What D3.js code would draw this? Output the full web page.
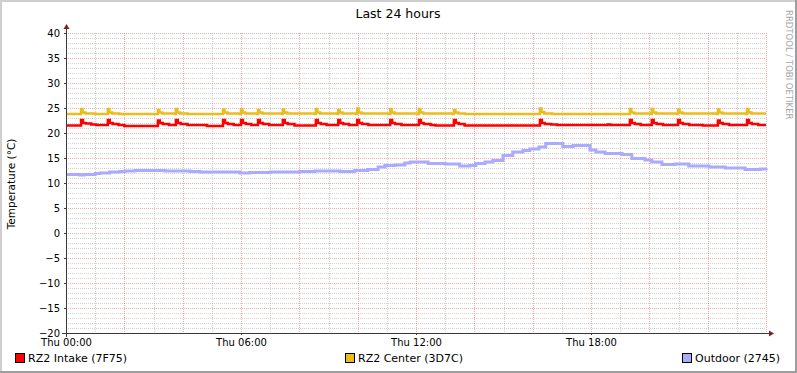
<!DOCTYPE html>
<html lang="en">
<head>
  <meta charset="UTF-8">
  <title>Last 24 hours</title>
  <script src="https://d3js.org/d3.v7.min.js"></script>
  <style>
    body { margin: 0; background: #fff; }
    svg { font-family: "DejaVu Sans", sans-serif; display: block; }
  </style>
</head>
<body>
<svg width="797" height="373"></svg>
<script>
  // Data: [minute of day, °C], drawn as step lines
  const intake = [
    [0,21.5],[29,21.5],[31,22.6],[35,22.0],[41,21.9],[52,21.7],[62,21.6],[84,21.6],[86,22.6],[90,22.0],[96,21.8],[108,21.6],[120,21.4],
    [187,21.4],[189,22.5],[193,22.0],[199,21.8],[212,21.6],[224,21.6],[226,22.6],[230,22.0],[236,21.8],[250,21.6],[290,21.4],
    [321,21.4],[323,22.6],[327,22.0],[333,21.8],[345,21.6],[358,21.6],[360,22.6],[364,22.0],[370,21.8],[381,21.6],
    [393,21.6],[395,22.6],[399,22.0],[405,21.8],[418,21.6],[444,21.6],[446,22.6],[450,22.0],[456,21.8],[470,21.5],
    [512,21.5],[514,22.6],[518,22.0],[524,21.8],[536,21.6],[558,21.6],[560,22.6],[564,22.0],[570,21.8],[582,21.6],
    [597,21.6],[599,22.6],[603,22.0],[609,21.8],[622,21.6],[665,21.6],[667,22.6],[671,22.0],[677,21.8],[690,21.6],
    [724,21.6],[726,22.6],[730,22.0],[736,21.8],[750,21.6],[760,21.5],[796,21.5],[798,22.6],[802,22.0],[808,21.8],[820,21.5],
    [973,21.5],[975,22.6],[979,22.0],[985,21.8],[998,21.7],[1010,21.6],[1110,21.6],[1114,21.7],[1120,21.6],
    [1158,21.6],[1160,22.6],[1164,22.0],[1170,21.8],[1182,21.6],[1203,21.6],[1205,22.6],[1209,22.0],[1215,21.8],[1228,21.6],
    [1257,21.6],[1259,22.6],[1263,22.0],[1269,21.8],[1282,21.6],[1310,21.5],[1339,21.5],[1341,22.5],[1345,22.0],[1351,21.8],[1364,21.6],
    [1399,21.6],[1401,22.6],[1405,22.0],[1411,21.8],[1424,21.6],[1440,21.6]
  ];
  const center = [
    [0,23.8],[29,23.8],[31,24.8],[34,24.1],[40,23.9],[60,23.8],[84,23.8],[86,24.8],[89,24.1],[95,23.9],[110,23.8],
    [187,23.8],[189,24.6],[192,24.1],[198,23.9],[224,23.8],[226,24.8],[229,24.1],[235,23.9],[250,23.8],
    [321,23.8],[323,24.7],[326,24.1],[332,23.9],[358,23.8],[360,24.7],[363,24.1],[369,23.9],[393,23.8],[395,24.6],[398,24.1],[404,23.9],
    [444,23.8],[446,24.7],[449,24.1],[455,23.9],[512,23.8],[514,24.8],[517,24.1],[523,23.9],[558,23.8],[560,24.6],[563,24.1],[569,23.9],
    [597,23.8],[599,24.9],[602,24.1],[608,23.9],[665,23.8],[667,24.8],[670,24.1],[676,23.9],[724,23.8],[726,24.8],[729,24.1],[735,23.9],
    [796,23.8],[798,24.6],[801,24.1],[807,23.9],[820,23.8],[973,23.8],[975,24.9],[978,24.2],[984,23.9],[1000,23.8],
    [1158,23.8],[1160,24.8],[1163,24.1],[1169,23.9],[1203,23.8],[1205,24.8],[1208,24.1],[1214,23.9],[1257,23.8],[1259,24.7],[1262,24.1],[1268,23.9],
    [1339,23.8],[1341,24.7],[1344,24.1],[1350,23.9],[1399,23.8],[1401,24.8],[1404,24.1],[1410,23.9],[1440,23.9]
  ];
  const outdoor = [
    [0,11.7],[29,11.6],[37,11.7],[60,11.9],[70,12.0],[90,12.2],[111,12.3],[121,12.4],[142,12.5],[183,12.5],[204,12.4],
    [255,12.3],[276,12.2],[327,12.2],[358,12.0],[378,12.1],[420,12.2],[481,12.3],[512,12.4],[543,12.4],[564,12.3],[594,12.5],
    [621,12.7],[642,13.2],[656,13.5],[677,13.6],[697,14.0],[708,14.2],[728,14.2],[745,13.9],[780,13.8],[810,13.4],[831,13.5],
    [843,13.9],[862,14.2],[878,14.5],[899,15.5],[919,16.2],[940,16.5],[954,16.8],[973,17.2],[987,17.9],[1008,17.9],[1022,17.3],
    [1043,17.5],[1063,17.5],[1078,16.6],[1090,16.2],[1109,15.9],[1144,15.7],[1164,14.9],[1191,14.6],[1205,14.2],[1226,13.7],
    [1253,13.8],[1281,13.4],[1323,13.2],[1356,13.0],[1397,12.7],[1428,12.8],[1440,13.0]
  ];

  const seriesNames = ["RZ2 Intake (7F75)", "RZ2 Center (3D7C)", "Outdoor (2745)"];
  const seriesColors = ["#ff0000", "#e9bd1c", "#aaaaff"];
  const xTickMinutes = [0, 360, 720, 1080];
  const xTickLabels = ["Thu 00:00", "Thu 06:00", "Thu 12:00", "Thu 18:00"];
  const yTicks = [-20, -15, -10, -5, 0, 5, 10, 15, 20, 25, 30, 35, 40];

  const svg = d3.select("svg");
  const W = 797, H = 373;
  const plot = {left: 66, right: 766, top: 33, bottom: 333};

  const x = d3.scaleLinear().domain([0, 1440]).range([plot.left, plot.right]);
  const y = d3.scaleLinear().domain([-20, 40]).range([plot.bottom, plot.top]);

  // background + shaded frame
  svg.append("rect").attr("width", W).attr("height", H).attr("fill", "#ffffff");
  svg.append("path").attr("d", `M0,0H${W}V2H2V${H}H0Z`).attr("fill", "#cfcfcf");
  svg.append("path").attr("d", `M${W},${H}H0V${H-2}H${W-2}V0H${W}Z`).attr("fill", "#9e9e9e");

  // grid
  const grid = svg.append("g").attr("shape-rendering", "crispEdges");
  const minorCol = "rgba(143,143,143,0.4)", majorCol = "rgba(222,70,70,0.45)";
  d3.range(-20, 41, 1).forEach(v => {
    grid.append("line")
      .attr("x1", plot.left).attr("x2", plot.right)
      .attr("y1", Math.round(y(v)) + 0.5).attr("y2", Math.round(y(v)) + 0.5)
      .attr("stroke", v % 5 === 0 ? majorCol : minorCol)
      .attr("stroke-dasharray", "1,1");
  });
  d3.range(0, 1441, 60).forEach(m => {
    grid.append("line")
      .attr("y1", plot.top).attr("y2", plot.bottom)
      .attr("x1", Math.round(x(m)) + 0.5).attr("x2", Math.round(x(m)) + 0.5)
      .attr("stroke", m % 120 === 0 ? majorCol : minorCol)
      .attr("stroke-dasharray", "1,1");
  });

  // lines
  const line = d3.line()
    .x(d => x(d[0]))
    .y(d => y(d[1]))
    .curve(d3.curveStepAfter);

  [outdoor, intake, center].forEach((data, i) => {
    const idx = [2, 0, 1][i];
    svg.append("path")
      .datum(data)
      .attr("fill", "none")
      .attr("stroke", seriesColors[idx])
      .attr("stroke-width", idx === 2 ? 3 : 2.5)
      .attr("d", line);
  });

  // axes
  const axisCol = "#3a3a3a", arrowCol = "#7f1f1f";
  svg.append("line").attr("x1", plot.left - 4).attr("x2", plot.right + 4)
    .attr("y1", plot.bottom + 0.5).attr("y2", plot.bottom + 0.5)
    .attr("stroke", axisCol);
  svg.append("line").attr("x1", plot.left + 0.5).attr("x2", plot.left + 0.5)
    .attr("y1", plot.bottom + 4).attr("y2", plot.top - 5)
    .attr("stroke", axisCol);
  svg.append("path").attr("d", `M${plot.right + 3},${plot.bottom - 2.5}L${plot.right + 8},${plot.bottom + 0.5}L${plot.right + 3},${plot.bottom + 3.5}Z`).attr("fill", arrowCol);
  svg.append("path").attr("d", `M${plot.left - 2.5},${plot.top - 4}L${plot.left + 0.5},${plot.top - 9}L${plot.left + 3.5},${plot.top - 4}Z`).attr("fill", arrowCol);

  // y tick labels
  const yAxis = svg.append("g")
    .attr("transform", `translate(${plot.left},0)`)
    .call(d3.axisLeft(y).tickValues(yTicks).tickSize(2).tickPadding(4));
  yAxis.select(".domain").remove();
  yAxis.selectAll("line").attr("stroke", axisCol);
  yAxis.selectAll("text").attr("font-size", 10).attr("fill", "#000").attr("font-family", "DejaVu Sans");

  // x tick labels
  const xAxis = svg.append("g")
    .attr("transform", `translate(0,${plot.bottom})`)
    .call(d3.axisBottom(x).tickValues(xTickMinutes).tickSize(2).tickPadding(4)
      .tickFormat((d, i) => xTickLabels[i]));
  xAxis.select(".domain").remove();
  xAxis.selectAll("line").attr("stroke", axisCol);
  xAxis.selectAll("text").attr("font-size", 10).attr("fill", "#000").attr("font-family", "DejaVu Sans");

  // title
  svg.append("text")
    .attr("x", 398).attr("y", 18)
    .attr("text-anchor", "middle")
    .attr("font-size", 12.5)
    .text("Last 24 hours");

  // y label
  svg.append("text")
    .attr("transform", `translate(15,${(plot.top + plot.bottom) / 2 + 1}) rotate(-90)`)
    .attr("text-anchor", "middle")
    .attr("font-size", 10.5)
    .text("Temperature (°C)");

  // watermark
  svg.append("text")
    .attr("transform", "translate(786,10) rotate(90)")
    .attr("font-size", 8.5)
    .attr("fill", "#a8a8a8")
    .text("RRDTOOL / TOBI OETIKER");

  // legend
  const legendX = [15, 345, 682];
  seriesNames.forEach((name, i) => {
    svg.append("rect")
      .attr("x", legendX[i] + 0.5).attr("y", 353.5)
      .attr("width", 9).attr("height", 9)
      .attr("fill", seriesColors[i])
      .attr("stroke", "#000");
    svg.append("text")
      .attr("x", legendX[i] + 13).attr("y", 362)
      .attr("font-size", 11)
      .text(name);
  });
</script>
</body>
</html>
